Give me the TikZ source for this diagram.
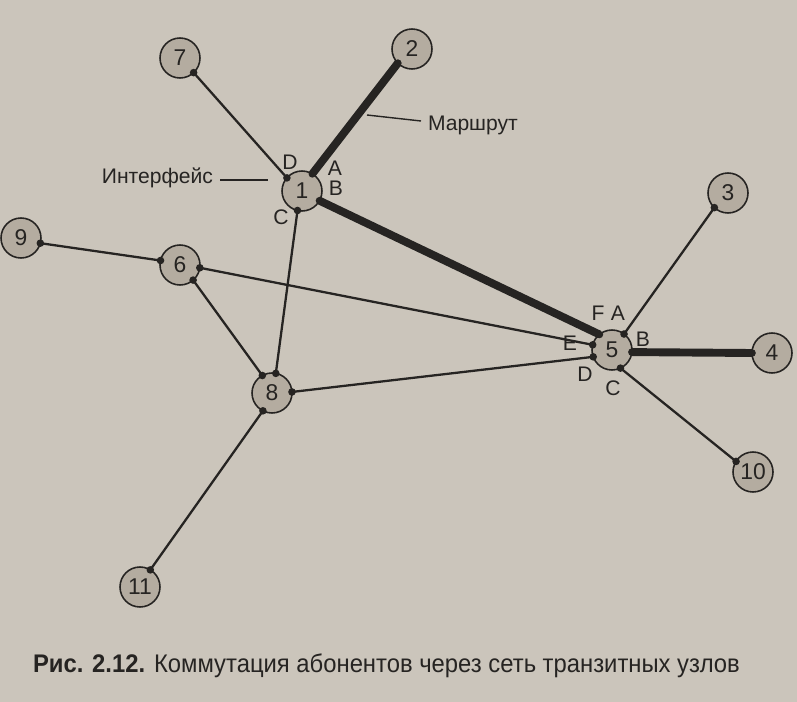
\documentclass[tikz,border=0pt]{standalone}
\usepackage{fontspec}
\setmainfont{Liberation Sans}
\usetikzlibrary{positioning}

\definecolor{paper}{RGB}{203,197,187}
\definecolor{nodegrey}{RGB}{180,172,160}
\definecolor{ink}{RGB}{38,36,34}

\begin{document}
\begin{tikzpicture}[x=0.02cm, y=-0.02cm, outer sep = 0pt]

\tikzstyle{host}=[draw=ink, line width=0.9pt, circle, fill=nodegrey, minimum size=0.8cm, inner sep=0pt, text=ink, font=\fontsize{13}{13}\selectfont]
\tikzstyle{link}=[draw=ink, line width=1.3pt]
\tikzstyle{route}=[draw=ink, line width=4.5pt]
\tikzstyle{port}=[text=ink, font=\fontsize{12}{12}\selectfont, inner sep=0pt]
\tikzstyle{dot}=[fill=ink]

\fill[paper] (0,0) rectangle (797,702);
\useasboundingbox (0,0) rectangle (797,702);

\node[host] (n7) at (180,58) {7}; \node[host] (n2) at (412,49) {2}; \node[host] (n1) at (302,191) {1};
\node[host] (n3) at (728,193) {3}; \node[host] (n9) at (21,238) {9}; \node[host] (n6) at (180,265) {6};
\node[host] (n5) at (612,350) {5}; \node[host] (n4) at (772,353) {4}; \node[host] (n8) at (272,393) {8};
\node[host] (n10) at (753,472) {10}; \node[host] (n11) at (140,587) {11};

\draw[link] (n1.139) -- (n7.-47);
\draw[route] (n1.59) -- (n2.-135);
\draw[route] (n1.-29) -- (n5.129);
\draw[link] (n1.-103) -- (n8.79);
\draw[link] (n5.53) -- (n3.-133);
\draw[route] (n5.-6) -- (n4.180);
\draw[link] (n5.-65) -- (n10.148);
\draw[link] (n9.-15) -- (n6.167);
\draw[link] (n6.-8) -- (n5.165);
\draw[link] (n6.-49) -- (n8.119);
\draw[link] (n8.3) -- (n5.-160);
\draw[link] (n8.-117) -- (n11.59);

\foreach \p in {n1.139,n1.59,n1.-29,n1.-103,n7.-47,n2.-135,n5.129,n5.53,n5.-6,n5.-65,n5.165,n5.-160,n3.-133,n4.180,n10.148,n9.-15,n6.167,n6.-8,n6.-49,n8.79,n8.119,n8.3,n8.-117,n11.59}
  \fill[dot] (\p) circle (3.8);

\node[port] (p1D) at (290,162) {D}; \node[port] (p1A) at (335,168) {A};
\node[port] (p1B) at (336,188) {B}; \node[port] (p1C) at (281,217) {C};
\node[port] (p5F) at (598,313) {F}; \node[port] (p5A) at (618,313) {A};
\node[port] (p5B) at (643,339) {B}; \node[port] (p5E) at (570,343) {E};
\node[port] (p5D) at (585,374) {D}; \node[port] (p5C) at (613,388) {C};

\node[port, anchor=east] (iface) at (213,178) {Интерфейс};
\coordinate (ifaceEnd) at (268,180);
\draw[ink, line width=0.8pt] (220,180) -- (ifaceEnd);
\node[port, anchor=west] (routeLbl) at (428,125) {Маршрут};
\coordinate (routeEnd) at (367,115);
\draw[ink, line width=0.8pt] (routeEnd) -- (421,121);

\node[anchor=base west, inner sep=0pt, text=ink, xscale=0.935, font=\fontsize{14.5}{14.5}\selectfont] (caption) at (33,672) {\textbf{Рис. 2.12.} Коммутация абонентов через сеть транзитных узлов};

\end{tikzpicture}
\end{document}
